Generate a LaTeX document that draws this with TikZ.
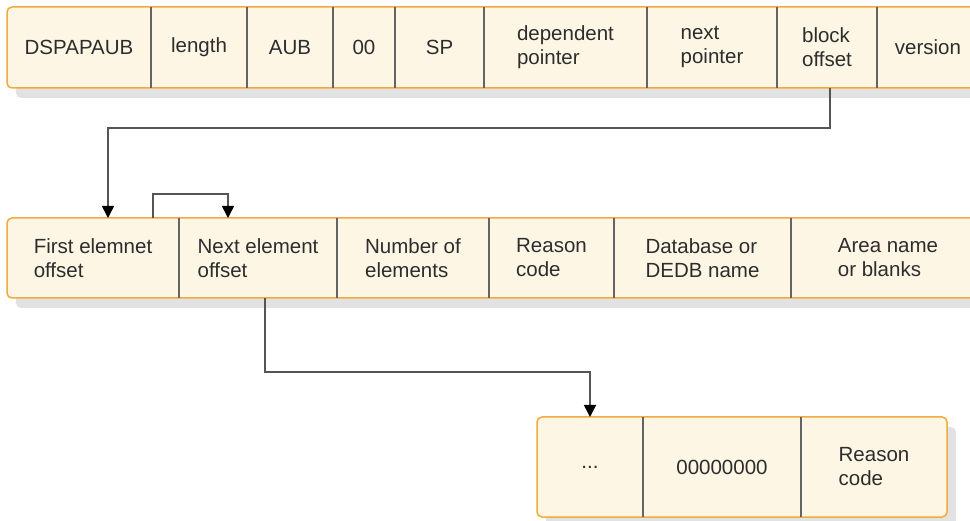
\documentclass[tikz,border=0pt]{standalone}
\usepackage{fontspec}
\setmainfont{Liberation Sans}
\usetikzlibrary{
  arrows.meta,
  positioning,
  fit,
  backgrounds,
  shadows
}
\definecolor{FieldFill}{RGB}{253,246,229}
\definecolor{FieldEdge}{RGB}{243,170,60}
\definecolor{SepGray}{RGB}{100,100,100}
\definecolor{LinkGray}{RGB}{85,85,85}
\definecolor{TextGray}{RGB}{45,45,45}
\definecolor{ShadowGray}{RGB}{226,226,226}
\tikzset{
  %%── fields ─────────────────────────────────────────────
  cell/.style = {
    rectangle, inner sep = 0pt, outer sep = 0pt,
    align = left, text = TextGray,
    font = \fontsize{20.5}{24}\selectfont
  },
  cellA/.style = {cell, minimum height = 81pt},
  cellB/.style = {cell, minimum height = 80pt},
  cellC/.style = {cell, minimum height = 100pt},
  %%── record frame ───────────────────────────────────────
  recbox/.style = {
    rectangle, rounded corners = 5pt,
    draw = FieldEdge, fill = FieldFill, line width = 1.5pt,
    inner sep = 0pt,
    drop shadow = {shadow xshift = 9pt, shadow yshift = -10pt,
                   fill = ShadowGray, opacity = 1}
  },
  sep/.style  = {draw = SepGray, line width = 1.4pt},
  %%── arrows ─────────────────────────────────────────────
  link/.style = {-{Triangle[width = 12pt, length = 12pt, color = black]},
                 line width = 1.5pt, color = LinkGray},
}

\begin{document}
\begin{tikzpicture}[x = 1pt, y = -1pt]

  \useasboundingbox (0,0) rectangle (970,521);

  %% ── record 1: DSPAPAUB header ──────────────────────────
  \node[cellA, minimum width = 144pt] (r1a) at (79,47.5) {DSPAPAUB};
  \node[cellA, minimum width = 96pt,  right = 0pt of r1a] (r1b) {length};
  \node[cellA, minimum width = 86pt,  right = 0pt of r1b] (r1c) {AUB};
  \node[cellA, minimum width = 62pt,  right = 0pt of r1c] (r1d) {00};
  \node[cellA, minimum width = 89pt,  right = 0pt of r1d] (r1e) {SP};
  \node[cellA, minimum width = 163pt, right = 0pt of r1e] (r1f) {dependent\\pointer};
  \node[cellA, minimum width = 130pt, right = 0pt of r1f] (r1g) {next\\pointer};
  \node[cellA, minimum width = 100pt, right = 0pt of r1g] (r1h) {block\\offset};
  \node[cellA, minimum width = 102pt, right = 0pt of r1h] (r1i) {version};

  %% ── record 2: element list ─────────────────────────────
  \node[cellB, minimum width = 172pt] (r2a) at (93,258) {First elemnet\\offset};
  \node[cellB, minimum width = 158pt, right = 0pt of r2a] (r2b) {Next element\\offset};
  \node[cellB, minimum width = 152pt, right = 0pt of r2b] (r2c) {Number of\\elements};
  \node[cellB, minimum width = 125pt, right = 0pt of r2c] (r2d) {Reason\\code};
  \node[cellB, minimum width = 177pt, right = 0pt of r2d] (r2e) {Database or\\DEDB name};
  \node[cellB, minimum width = 194pt, right = 0pt of r2e] (r2f) {Area name\\or blanks};

  %% ── record 3: last element ─────────────────────────────
  \node[cellC, minimum width = 106pt] (r3a) at (590,467) {...};
  \node[cellC, minimum width = 158pt, right = 0pt of r3a] (r3b) {00000000};
  \node[cellC, minimum width = 146pt, right = 0pt of r3b] (r3c) {Reason\\code};

  \begin{scope}[on background layer]
    \clip (0,0) rectangle (970,521);
    \node[recbox, fit = (r1a)(r1i)] (box1) {};
    \node[recbox, fit = (r2a)(r2f)] (box2) {};
    \node[recbox, fit = (r3a)(r3c)] (box3) {};
  \end{scope}

  %% ── field separators ───────────────────────────────────
  \foreach \c in {r1a,r1b,r1c,r1d,r1e,r1f,r1g,r1h,r2a,r2b,r2c,r2d,r2e,r3a,r3b}
    \draw[sep] (\c.north east) -- (\c.south east);

  %% ── pointers ───────────────────────────────────────────
  \draw[link] ([xshift = 3pt]r1h.south) -- ++(0,40) -| ([xshift = 15pt]r2a.north);
  \draw[link] ([xshift = 60pt]r2a.north) -- ++(0,-24) -| ([xshift = -30pt]r2b.north);
  \draw[link] ([xshift = 7pt]r2b.south) -- ++(0,74) -| (r3a.north);

\end{tikzpicture}
\end{document}
